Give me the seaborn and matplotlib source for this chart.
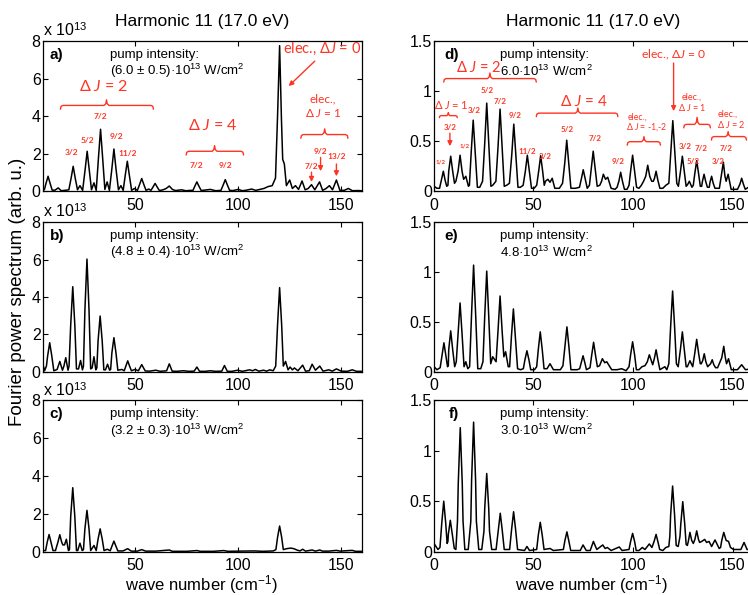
import matplotlib
matplotlib.use('Agg')
import matplotlib.pyplot as plt
import seaborn as sns
import pandas as pd

sns.set_style('ticks')
plt.rcParams['font.family'] = ['Liberation Sans', 'DejaVu Sans']
plt.rcParams['mathtext.fontset'] = 'custom'
plt.rcParams['mathtext.rm'] = 'Liberation Sans'
plt.rcParams['mathtext.it'] = 'Lato:italic'
plt.rcParams['mathtext.bf'] = 'Liberation Sans:bold'
for k in ['axes.edgecolor', 'text.color', 'xtick.color', 'ytick.color', 'axes.labelcolor']:
    plt.rcParams[k] = 'black'

RED = '#ff3322'

# ---------------- data (wave number cm^-1, power) ----------------
spec_a = [(5, 0.15), (5.8, 0.08), (6.6, 0.42), (7.6, 0.8), (8.6, 0.42), (9.6, 0.06), (11.0, 0.06),
          (12.5, 0.18), (14.0, 0.03), (16.5, 0.06), (17.7, 0.08), (18.8, 0.7), (19.8, 1.33), (20.8, 0.7),
          (21.9, 0.08), (23.1, 0.3), (24.4, 0.05), (25.6, 1.15), (26.6, 2.13), (27.6, 1.15), (28.7, 0.08),
          (29.9, 0.45), (31.0, 0.05), (32.1, 1.8), (33.1, 3.3), (34.1, 1.8), (35.2, 0.1), (36.3, 0.5),
          (37.4, 0.05), (38.6, 1.2), (39.6, 2.25), (40.6, 1.2), (41.8, 0.08), (43.0, 0.3), (44.1, 0.05),
          (45.1, 0.85), (46.1, 1.6), (47.1, 0.85), (48.2, 0.05), (49.5, 0.15), (51.0, 0.05), (52.1, 0.37),
          (53.1, 0.68), (54.1, 0.37), (55.2, 0.05), (56.5, 0.12), (57.6, 0.05), (58.6, 0.23), (59.6, 0.42),
          (60.6, 0.23), (61.7, 0.04), (63.5, 0.08), (65.0, 0.15), (66.5, 0.28), (68.0, 0.1), (69.5, 0.04),
          (72.5, 0.08), (74.5, 0.03), (77.0, 0.05), (78.0, 0.05), (78.9, 0.27), (79.9, 0.5), (80.9, 0.27),
          (82.0, 0.04), (83.5, 0.06), (86.5, 0.1), (89.0, 0.03), (91.6, 0.05), (92.7, 0.34), (93.7, 0.62),
          (94.7, 0.34), (95.8, 0.05), (97.5, 0.04), (100.0, 0.1), (102.0, 0.03), (104.0, 0.06),
          (106.5, 0.12), (108.5, 0.05), (110.5, 0.1), (112.5, 0.15), (114.5, 0.25), (116.5, 0.3),
          (118.1, 0.7), (119.1, 4.0), (120.1, 7.75), (121.0, 3.8), (121.6, 1.7), (122.4, 1.45),
          (123.4, 0.3), (125.0, 0.6), (126.3, 0.15), (127.8, 0.3), (129.3, 0.1), (131.0, 0.55),
          (132.5, 0.08), (134.0, 0.15), (135.6, 0.35), (137.2, 0.08), (139.5, 0.5), (141.0, 0.05),
          (142.7, 0.15), (144.3, 0.3), (145.8, 0.08), (147.7, 0.6), (149.4, 0.05), (151.5, 0.05),
          (153.5, 0.15), (155.5, 0.03), (158.0, 0.04), (160.0, 0.03)]

spec_b = [(5, 0.45), (5.9, 0.05), (6.8, 0.3), (7.4, 0.85), (8.4, 1.55), (9.4, 0.85), (10.4, 0.05),
          (12.0, 0.12), (13.3, 0.55), (14.6, 0.08), (15.3, 0.3), (16.2, 0.75), (17.3, 0.08), (17.8, 0.3),
          (18.6, 2.5), (19.6, 4.55), (20.6, 2.5), (21.4, 0.15), (22.4, 0.15), (23.4, 0.6), (24.3, 0.1),
          (24.8, 0.3), (25.5, 3.3), (26.5, 6.03), (27.5, 3.3), (28.3, 0.15), (29.0, 0.2), (29.9, 0.8),
          (30.8, 0.1), (31.3, 0.2), (31.9, 1.65), (32.9, 2.98), (33.9, 1.65), (34.7, 0.1), (35.5, 0.1),
          (36.5, 0.4), (37.5, 0.08), (38.0, 0.12), (38.6, 1.0), (39.6, 1.82), (40.6, 1.0), (41.5, 0.08),
          (43.5, 0.12), (44.6, 0.05), (45.4, 0.3), (46.3, 0.58), (47.2, 0.3), (48.1, 0.05), (49.8, 0.12),
          (51.5, 0.05), (53.1, 0.38), (54.8, 0.04), (57.0, 0.03), (60.0, 0.08), (62.0, 0.02), (65.2, 0.05),
          (66.5, 0.42), (67.9, 0.03), (70.0, 0.02), (73.4, 0.05), (76.0, 0.02), (78.6, 0.03), (79.9, 0.25),
          (81.2, 0.02), (84.0, 0.02), (86.4, 0.05), (89.0, 0.02), (92.0, 0.03), (93.3, 0.33), (94.7, 0.02),
          (97.0, 0.02), (99.7, 0.08), (102.0, 0.02), (105.5, 0.1), (107.0, 0.05), (108.3, 0.12),
          (110.0, 0.03), (112.3, 0.08), (113.8, 0.03), (115.3, 0.1), (117.0, 0.05), (118.2, 0.3),
          (119.1, 2.5), (120.1, 4.5), (121.1, 2.5), (121.9, 0.3), (123.0, 0.55), (124.2, 0.1),
          (125.2, 0.25), (126.3, 0.1), (127.3, 0.2), (129.0, 0.05), (131.3, 0.35), (132.7, 0.03),
          (134.5, 0.05), (135.9, 0.4), (137.5, 0.08), (139.6, 0.3), (141.2, 0.03), (144.0, 0.1),
          (145.7, 0.03), (147.7, 0.15), (150.0, 0.03), (153.0, 0.02), (155.4, 0.1), (157.5, 0.02),
          (160.0, 0.02)]

spec_c = [(5, 0.05), (6.4, 0.05), (7.2, 0.5), (8.1, 0.9), (9.0, 0.5), (10.0, 0.05), (11.2, 0.05),
          (12.4, 0.5), (13.3, 0.89), (14.2, 0.5), (14.8, 0.35), (15.6, 0.35), (16.5, 0.65), (17.5, 0.05),
          (18.0, 0.1), (18.6, 1.85), (19.6, 3.38), (20.6, 1.85), (21.4, 0.05), (22.0, 0.05), (23.1, 0.44),
          (24.2, 0.05), (24.8, 0.1), (25.5, 1.2), (26.5, 2.18), (27.5, 1.2), (28.3, 0.05), (29.9, 0.32),
          (31.0, 0.05), (31.9, 0.66), (32.9, 1.2), (33.9, 0.66), (34.8, 0.05), (36.4, 0.12), (37.8, 0.04),
          (38.7, 0.3), (39.6, 0.55), (40.5, 0.3), (41.5, 0.03), (44.0, 0.03), (46.3, 0.15), (48.0, 0.02),
          (51.0, 0.02), (53.1, 0.1), (55.0, 0.02), (60.0, 0.02), (66.5, 0.08), (68.0, 0.01), (75.0, 0.01),
          (80.0, 0.05), (81.5, 0.01), (88.0, 0.01), (93.0, 0.05), (95.0, 0.01), (100.0, 0.02),
          (108.0, 0.03), (112.0, 0.01), (117.0, 0.03), (118.3, 0.1), (119.1, 0.75), (120.1, 1.35),
          (121.1, 0.75), (121.9, 0.1), (123.5, 0.15), (125.5, 0.18), (127.0, 0.15), (128.5, 0.08),
          (130.0, 0.03), (131.3, 0.12), (132.7, 0.02), (135.9, 0.08), (137.5, 0.02), (139.6, 0.08),
          (141.0, 0.02), (144.0, 0.02), (147.7, 0.06), (149.5, 0.02), (155.4, 0.06), (157.0, 0.01),
          (160.0, 0.01)]

spec_d = [(0, 0.05), (1.5, 0.03), (2.8, 0.03), (3.7, 0.11), (4.7, 0.2), (5.6, 0.11), (6.4, 0.05), (7.0, 0.06),
          (7.4, 0.2), (8.4, 0.35), (9.4, 0.2), (10.3, 0.08), (11.0, 0.1), (12.1, 0.2), (13.1, 0.36),
          (14.1, 0.2), (14.9, 0.12), (16.0, 0.15), (17.3, 0.05), (17.8, 0.06), (18.7, 0.39), (19.7, 0.71),
          (20.7, 0.39), (21.8, 0.04), (23.0, 0.04), (24.4, 0.1), (25.5, 0.48), (26.5, 0.88), (27.5, 0.48),
          (28.6, 0.05), (29.5, 0.06), (31.1, 0.1), (32.2, 0.45), (33.2, 0.82), (34.2, 0.45), (35.3, 0.05),
          (36.5, 0.06), (37.9, 0.08), (39.1, 0.37), (40.1, 0.67), (41.1, 0.37), (42.2, 0.04), (43.4, 0.04),
          (44.8, 0.06), (45.9, 0.2), (46.9, 0.36), (47.9, 0.2), (49.0, 0.03), (50.3, 0.03), (51.6, 0.06),
          (52.6, 0.2), (53.6, 0.355), (54.6, 0.2), (55.4, 0.06), (56.0, 0.1), (57.2, 0.12), (58.3, 0.09),
          (59.4, 0.13), (60.7, 0.03), (63.0, 0.03), (64.6, 0.08), (65.7, 0.28), (66.7, 0.51), (67.7, 0.28),
          (68.8, 0.03), (71.0, 0.03), (73.1, 0.04), (74.0, 0.12), (75.0, 0.215), (76.0, 0.12), (77.0, 0.03),
          (78.1, 0.06), (79.0, 0.22), (80.0, 0.40), (81.0, 0.22), (82.0, 0.05), (83.3, 0.06), (84.2, 0.1),
          (85.1, 0.17), (86.2, 0.12), (87.3, 0.14), (89.0, 0.03), (91.0, 0.02), (92.0, 0.04), (92.9, 0.1),
          (93.8, 0.19), (94.7, 0.1), (95.7, 0.02), (97.0, 0.02), (98.0, 0.06), (98.8, 0.2), (99.8, 0.36),
          (100.8, 0.2), (101.8, 0.04), (103.0, 0.03), (104.2, 0.06), (105.3, 0.1), (106.4, 0.15),
          (107.4, 0.26), (108.4, 0.15), (109.4, 0.1), (110.2, 0.1), (110.8, 0.13), (111.6, 0.2),
          (112.5, 0.11), (113.5, 0.03), (115.0, 0.03), (116.5, 0.06), (118.0, 0.08), (119.0, 0.39),
          (120.0, 0.705), (121.0, 0.39), (122.0, 0.08), (122.8, 0.05), (123.8, 0.19), (124.8, 0.35),
          (125.8, 0.19), (126.7, 0.05), (127.5, 0.07), (128.3, 0.1), (129.6, 0.04), (130.3, 0.06),
          (131.0, 0.17), (132.0, 0.305), (133.0, 0.17), (133.8, 0.05), (134.5, 0.05), (134.9, 0.1),
          (135.7, 0.17), (136.5, 0.1), (137.4, 0.04), (138.3, 0.04), (138.7, 0.09), (139.5, 0.15),
          (140.3, 0.08), (141.2, 0.03), (143.4, 0.03), (144.4, 0.16), (145.4, 0.29), (146.2, 0.15),
          (146.8, 0.1), (147.8, 0.17), (149.3, 0.02), (152.5, 0.02), (153.7, 0.07), (154.6, 0.13),
          (155.5, 0.07), (156.4, 0.02), (158.0, 0.04), (160.0, 0.02)]

spec_e = [(0, 0.05), (1.5, 0.02), (3.1, 0.04), (4.0, 0.16), (5.0, 0.29), (6.0, 0.16), (6.8, 0.05), (7.2, 0.06),
          (7.4, 0.22), (8.4, 0.41), (9.4, 0.22), (10.4, 0.05), (11.2, 0.1), (12.1, 0.38), (13.1, 0.69),
          (14.1, 0.38), (15.1, 0.05), (16.0, 0.1), (17.0, 0.03), (17.9, 0.05), (18.9, 0.59), (19.9, 1.07),
          (20.9, 0.59), (22.0, 0.03), (23.5, 0.03), (24.6, 0.1), (25.5, 0.56), (26.5, 1.01), (27.5, 0.56),
          (28.5, 0.08), (29.5, 0.15), (31.2, 0.1), (32.2, 0.42), (33.2, 0.76), (34.2, 0.42), (35.1, 0.15),
          (36.0, 0.2), (37.3, 0.05), (38.0, 0.05), (38.9, 0.35), (39.9, 0.63), (40.9, 0.35), (42.0, 0.03),
          (43.5, 0.02), (44.9, 0.03), (45.7, 0.12), (46.7, 0.21), (47.7, 0.12), (48.6, 0.02), (50.5, 0.02),
          (51.6, 0.05), (52.4, 0.22), (53.4, 0.40), (54.4, 0.22), (55.3, 0.03), (56.8, 0.03), (58.3, 0.08),
          (60.0, 0.02), (63.5, 0.02), (64.8, 0.06), (65.8, 0.25), (66.8, 0.45), (67.8, 0.25), (68.8, 0.02),
          (72.0, 0.02), (73.2, 0.03), (74.0, 0.09), (74.9, 0.16), (75.8, 0.09), (76.6, 0.02), (78.4, 0.04),
          (79.2, 0.16), (80.2, 0.295), (81.2, 0.16), (82.1, 0.05), (83.2, 0.06), (84.6, 0.13), (85.8, 0.09),
          (86.8, 0.1), (89.3, 0.02), (92.0, 0.02), (94.3, 0.03), (96.5, 0.01), (98.0, 0.05), (98.8, 0.17),
          (99.8, 0.30), (100.8, 0.17), (101.7, 0.02), (103.0, 0.02), (104.5, 0.05), (106.0, 0.06),
          (107.2, 0.1), (108.2, 0.17), (109.9, 0.07), (110.7, 0.13), (111.6, 0.22), (112.5, 0.12),
          (113.5, 0.02), (116.0, 0.05), (117.0, 0.02), (118.0, 0.08), (118.9, 0.45), (119.9, 0.81),
          (120.9, 0.45), (121.8, 0.08), (122.7, 0.05), (123.8, 0.22), (124.8, 0.40), (125.8, 0.22),
          (126.7, 0.05), (127.3, 0.05), (128.6, 0.11), (130.0, 0.05), (131.0, 0.18), (132.0, 0.325),
          (133.0, 0.18), (133.8, 0.08), (134.3, 0.08), (135.0, 0.11), (135.8, 0.18), (136.6, 0.1),
          (137.5, 0.05), (139.0, 0.08), (139.8, 0.12), (140.6, 0.07), (141.5, 0.04), (142.5, 0.04),
          (144.6, 0.14), (145.6, 0.255), (146.4, 0.14), (147.0, 0.08), (148.0, 0.13), (149.4, 0.02),
          (152.5, 0.02), (154.6, 0.07), (156.5, 0.02), (160.0, 0.03)]

spec_f = [(0, 0.08), (1.0, 0.05), (2.0, 0.02), (3.0, 0.04), (3.9, 0.28), (4.9, 0.5), (5.9, 0.28), (6.6, 0.08),
          (7.0, 0.1), (7.2, 0.17), (8.2, 0.31), (9.2, 0.17), (10.2, 0.03), (11.0, 0.02), (11.8, 0.3),
          (12.2, 0.68), (13.2, 1.23), (14.2, 0.68), (14.6, 0.3), (15.5, 0.02), (17.2, 0.02), (18.5, 0.3),
          (18.9, 0.71), (19.9, 1.285), (20.9, 0.71), (21.3, 0.3), (22.5, 0.02), (24.0, 0.02), (25.1, 0.2),
          (25.5, 0.43), (26.5, 0.775), (27.5, 0.43), (27.9, 0.2), (29.0, 0.02), (31.2, 0.02), (32.3, 0.21),
          (33.3, 0.38), (34.3, 0.21), (35.3, 0.02), (38.0, 0.02), (39.0, 0.22), (40.0, 0.395), (41.0, 0.22),
          (42.0, 0.02), (45.5, 0.01), (46.7, 0.05), (48.0, 0.01), (51.6, 0.02), (52.4, 0.16), (53.4, 0.29),
          (54.4, 0.16), (55.3, 0.02), (58.3, 0.03), (60.0, 0.01), (65.0, 0.02), (65.8, 0.11), (66.8, 0.195),
          (67.8, 0.1), (68.7, 0.01), (73.5, 0.01), (74.9, 0.065), (76.5, 0.01), (78.5, 0.01), (80.1, 0.1),
          (81.8, 0.02), (84.8, 0.065), (86.0, 0.03), (87.1, 0.04), (89.0, 0.01), (93.1, 0.045),
          (94.5, 0.01), (98.0, 0.02), (98.8, 0.1), (99.8, 0.18), (100.8, 0.1), (101.6, 0.01), (103.0, 0.01),
          (104.7, 0.04), (106.0, 0.02), (108.2, 0.075), (109.5, 0.04), (110.6, 0.1), (111.6, 0.17),
          (112.6, 0.09), (113.4, 0.02), (115.0, 0.01), (116.5, 0.04), (118.0, 0.05), (118.5, 0.15),
          (118.9, 0.36), (119.9, 0.65), (120.9, 0.36), (121.7, 0.06), (122.7, 0.05), (123.6, 0.15),
          (124.0, 0.27), (125.0, 0.495), (126.0, 0.27), (126.7, 0.07), (127.3, 0.06), (127.8, 0.1),
          (128.6, 0.19), (129.5, 0.11), (130.3, 0.08), (131.1, 0.12), (132.0, 0.205), (132.9, 0.12),
          (133.5, 0.09), (134.5, 0.1), (136.0, 0.12), (137.0, 0.09), (138.2, 0.1), (139.5, 0.05),
          (141.2, 0.115), (143.3, 0.03), (144.0, 0.04), (144.6, 0.11), (145.6, 0.19), (146.8, 0.11),
          (148.0, 0.1), (149.0, 0.04), (150.5, 0.02), (154.2, 0.02), (155.8, 0.09), (157.3, 0.02),
          (160.0, 0.02)]

panel_letters = ['a)', 'b)', 'c)', 'd)', 'e)', 'f)']
intensity_labels = ['(6.0 ± 0.5)·10$^{13}$ W/cm$^2$', '(4.8 ± 0.4)·10$^{13}$ W/cm$^2$',
                    '(3.2 ± 0.3)·10$^{13}$ W/cm$^2$', '6.0·10$^{13}$ W/cm$^2$',
                    '4.8·10$^{13}$ W/cm$^2$', '3.0·10$^{13}$ W/cm$^2$']
title_text = 'Harmonic 11 (17.0 eV)'
left_yticks = [0, 2, 4, 6, 8]
right_yticks = [0, 0.5, 1, 1.5]
right_yticklabels = ['0', '0.5', '1', '1.5']
left_xticks = [50, 100, 150]
right_xticks = [0, 50, 100, 150]

# ---------------- figure ----------------
fig = plt.figure(figsize=(7.48, 5.95), dpi=100)
left_x, left_w = 0.0571, 0.4265
right_x, right_w = 0.5802, 0.4257
row_b = [0.6785, 0.3753, 0.0731]
row_h = [0.2526, 0.2511, 0.2538]

specs = [spec_a, spec_b, spec_c, spec_d, spec_e, spec_f]
axes = []
for i in range(6):
    col, row = divmod(i, 3)
    x0, w = (left_x, left_w) if col == 0 else (right_x, right_w)
    ax = fig.add_axes([x0, row_b[row], w, row_h[row]])
    axes.append(ax)
    df = pd.DataFrame(specs[i], columns=['wn', 'power'])
    sns.lineplot(data=df, x='wn', y='power', ax=ax, color='black', lw=1.1,
                 estimator=None, sort=False)
    ax.set_xlabel('')
    ax.set_ylabel('')
    if col == 0:
        ax.set_xlim(5, 160)
        ax.set_ylim(0, 8)
        ax.set_xticks(left_xticks)
        ax.set_yticks(left_yticks)
        ax.text(0.0, 1.033, 'x 10$^{13}$', transform=ax.transAxes, ha='left', va='baseline',
                fontsize=11.5)
    else:
        ax.set_xlim(0, 160)
        ax.set_ylim(0, 1.5)
        ax.set_xticks(right_xticks)
        ax.set_yticks(right_yticks)
        ax.set_yticklabels(right_yticklabels)
    ax.tick_params(which='both', direction='in', top=True, right=(col == 0), length=3.5, width=0.8,
                   labelsize=11.5)
    ax.tick_params(axis='y', pad=1.5)
    ax.tick_params(axis='x', pad=4.5)
    for s in ax.spines.values():
        s.set_visible(True)
        s.set_linewidth(0.9)
        s.set_color('black')
    lx = 0.022 if col == 0 else 0.034
    if i == 5:
        lx = 0.045
    tx = 0.21 if col == 0 else 0.2075
    ax.text(lx, 0.91, panel_letters[i], transform=ax.transAxes, ha='left', va='center',
            fontsize=11, fontweight='bold')
    ax.text(tx, 0.91, 'pump intensity:', transform=ax.transAxes, ha='left', va='center', fontsize=9.5)
    ax.text(tx, 0.80, intensity_labels[i], transform=ax.transAxes, ha='left', va='center', fontsize=9.5)

fig.text(0.2703, 0.9635, title_text, ha='center', va='center', fontsize=12.5)
fig.text(0.7928, 0.9635, title_text, ha='center', va='center', fontsize=12.5)
fig.text(0.024, 0.509, 'Fourier power spectrum (arb. u.)', rotation=90, ha='center', va='center',
         fontsize=13.5)
fig.text(0.2685, 0.0075, 'wave number (cm$^{-1}$)', ha='center', va='baseline', fontsize=12)
fig.text(0.790, 0.0075, 'wave number (cm$^{-1}$)', ha='center', va='baseline', fontsize=12)


# ---------------- red annotations ----------------
def rt(ax, x, y, s, fs, weight='normal'):
    ax.text(x, y, s, fontsize=fs, color=RED, ha='center', va='center', family='Lato',
            fontweight=weight)


def brace(ax, x0, x1, y, hend, htip, xtip=None, d=1.2):
    if xtip is None:
        xtip = 0.5 * (x0 + x1)
    xs = [x0, x0 + 0.25 * d, x0 + d, xtip - d, xtip - 0.3 * d, xtip, xtip + 0.3 * d, xtip + d,
          x1 - d, x1 - 0.25 * d, x1]
    ys = [y - hend, y - 0.25 * hend, y, y, y + 0.3 * htip, y + htip, y + 0.3 * htip, y, y,
          y - 0.25 * hend, y - hend]
    ax.plot(xs, ys, color=RED, lw=1.0, clip_on=False)


def arrow(ax, x0, y0, x1, y1):
    ax.annotate('', xy=(x1, y1), xytext=(x0, y0),
                arrowprops=dict(arrowstyle='-|>', color=RED, lw=1.0, shrinkA=0, shrinkB=0,
                                mutation_scale=7))


ax = axes[0]
rt(ax, 34.7, 5.56, 'Δ $J$ = 2', 11.5)
brace(ax, 13.6, 58.8, 4.57, 0.2, 0.3, xtip=36.0)
for x, y, s in [(19.0, 2.04, '3/2'), (26.6, 2.72, '5/2'), (32.8, 4.0, '7/2'), (40.9, 2.93, '9/2'),
                (46.3, 2.0, '11/2'), (79.9, 1.39, '7/2'), (93.7, 1.39, '9/2')]:
    rt(ax, x, y, s, 6.0, 'bold')
rt(ax, 87.5, 3.5, 'Δ $J$ = 4', 11.5)
brace(ax, 74.7, 102.6, 2.13, 0.2, 0.3, xtip=88.5)
rt(ax, 140.8, 7.56, 'elec., Δ$J$ = 0', 10.5)
arrow(ax, 137.2, 6.93, 124.5, 5.6)
rt(ax, 140.8, 4.92, 'elec.,', 8.5)
rt(ax, 141.5, 4.18, 'Δ $J$ = 1', 8.5)
brace(ax, 130.4, 153.3, 3.02, 0.2, 0.3, xtip=142.0)
rt(ax, 140.0, 2.13, '9/2', 6.0, 'bold')
arrow(ax, 140.0, 1.8, 140.0, 1.07)
rt(ax, 135.6, 1.33, '7/2', 6.0, 'bold')
arrow(ax, 135.6, 1.02, 135.6, 0.5)
rt(ax, 147.7, 1.87, '13/2', 6.0, 'bold')
arrow(ax, 147.7, 1.45, 147.7, 0.8)

ax = axes[3]
rt(ax, 22.3, 1.24, 'Δ $J$ = 2', 10.5)
brace(ax, 4.9, 51.4, 1.125, 0.035, 0.055, xtip=28.1)
rt(ax, 8.5, 0.86, 'Δ $J$ = 1', 8.0)
brace(ax, 2.7, 11.7, 0.755, 0.02, 0.03, xtip=7.2, d=0.8)
rt(ax, 8.0, 0.64, '3/2', 5.8, 'bold')
arrow(ax, 8.0, 0.58, 8.0, 0.45)
rt(ax, 3.3, 0.29, '1/2', 4.4, 'bold')
rt(ax, 15.5, 0.456, '1/2', 4.4, 'bold')
for x, y, s in [(20.1, 0.81, '3/2'), (26.5, 1.01, '5/2'), (33.2, 0.894, '7/2'), (41.0, 0.76, '9/2'),
                (46.9, 0.40, '11/2'), (55.8, 0.347, '3/2'), (66.7, 0.62, '5/2'), (81.0, 0.53, '7/2'),
                (92.4, 0.30, '9/2'), (126.3, 0.447, '3/2'), (130.2, 0.30, '5/2'), (134.0, 0.424, '7/2'),
                (147.0, 0.43, '7/2'), (142.8, 0.30, '3/2')]:
    rt(ax, x, y, s, 5.8, 'bold')
rt(ax, 75.0, 0.894, 'Δ $J$ = 4', 11.0)
brace(ax, 51.4, 92.4, 0.78, 0.035, 0.05, xtip=72.3)
rt(ax, 102.5, 0.744, 'elec.,', 6.3)
rt(ax, 106.7, 0.635, 'Δ $J$ = -1,-2', 6.3)
brace(ax, 97.1, 113.8, 0.495, 0.035, 0.05, xtip=105.5)
rt(ax, 120.5, 1.357, 'elec., Δ$J$ = 0', 8.7)
arrow(ax, 120.4, 1.28, 120.4, 0.8)
rt(ax, 129.3, 0.937, 'elec.,', 6.5)
rt(ax, 130.0, 0.834, 'Δ $J$ = 1', 6.5)
brace(ax, 125.5, 138.9, 0.668, 0.035, 0.07, xtip=132.2)
rt(ax, 147.4, 0.771, 'elec.,', 6.5)
rt(ax, 149.4, 0.668, 'Δ $J$ = 2', 6.5)
brace(ax, 139.4, 157.0, 0.546, 0.035, 0.05, xtip=147.8)

fig.savefig('out.png', dpi=100)
